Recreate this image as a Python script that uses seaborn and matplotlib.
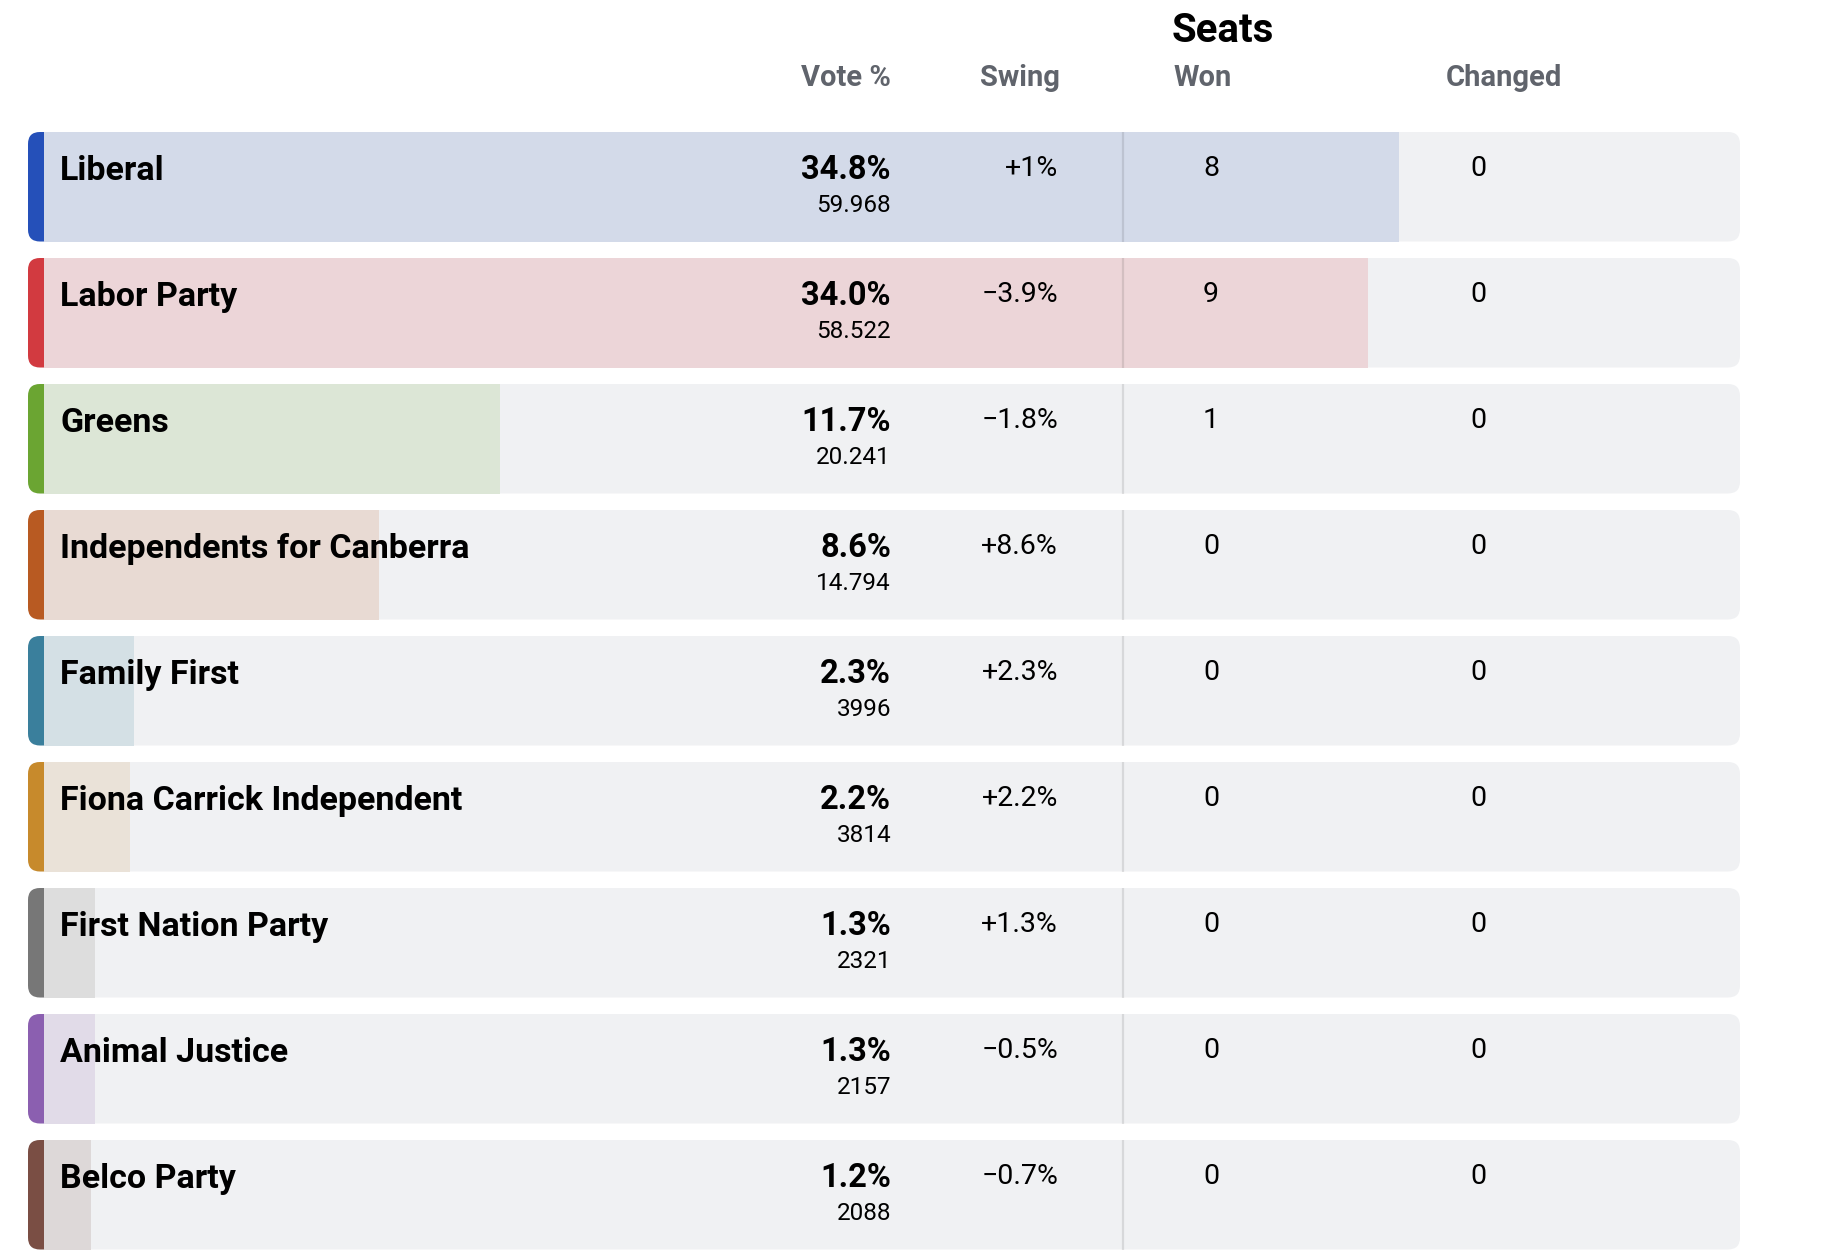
import matplotlib
matplotlib.use("Agg")
import matplotlib.pyplot as plt
from matplotlib.patches import FancyBboxPatch, Rectangle
import pandas as pd
import seaborn as sns

# ---------------- data ----------------
parties = ["Liberal", "Labor Party", "Greens", "Independents for Canberra",
           "Family First", "Fiona Carrick Independent", "First Nation Party",
           "Animal Justice", "Belco Party"]
vote_pct = [34.8, 34.0, 11.7, 8.6, 2.3, 2.2, 1.3, 1.3, 1.2]
vote_labels = ["34.8%", "34.0%", "11.7%", "8.6%", "2.3%", "2.2%", "1.3%", "1.3%", "1.2%"]
vote_counts = ["59.968", "58.522", "20.241", "14.794", "3996", "3814", "2321", "2157", "2088"]
swing = ["+1%", "\u22123.9%", "\u22121.8%", "+8.6%", "+2.3%", "+2.2%", "+1.3%", "\u22120.5%", "\u22120.7%"]
seats_won = [8, 9, 1, 0, 0, 0, 0, 0, 0]
seats_changed = [0, 0, 0, 0, 0, 0, 0, 0, 0]
strip_colors = ["#2550b9", "#d23a40", "#6ba532", "#b85a22", "#3a7f9c",
                "#c78a2c", "#777777", "#8b5fb0", "#7a4e44"]
bar_colors = ["#d3dae9", "#ecd5d8", "#dce6d6", "#e8dad3", "#d4e0e5",
              "#eae2d8", "#dddddd", "#e1dbe8", "#ddd8d8"]

# ---------------- layout (pixels) ----------------
W, H = 1828, 1254
ROW_X0, ROW_X1 = 28, 1740
STRIP_X1 = 44
ROW_TOP0, ROW_PITCH, ROW_H = 132, 126, 109.5
PX_PER_PCT = 38.94
SEP_X = 1123
ROW_BG = "#f0f1f3"

sns.set_theme(style="white")
plt.rcParams["font.family"] = ["Roboto", "DejaVu Sans"]

fig = plt.figure(figsize=(W / 100, H / 100), dpi=100)
fig.patch.set_facecolor("white")

# background axes (pixel coordinates)
ax_bg = fig.add_axes([0, 0, 1, 1])
ax_bg.set_xlim(0, W)
ax_bg.set_ylim(H, 0)
ax_bg.axis("off")

for i, p in enumerate(parties):
    top = ROW_TOP0 + i * ROW_PITCH
    row = FancyBboxPatch((ROW_X0, top), ROW_X1 - ROW_X0, ROW_H,
                         boxstyle="round,pad=0,rounding_size=12",
                         facecolor=ROW_BG, edgecolor="none", zorder=1)
    ax_bg.add_patch(row)
    strip = Rectangle((ROW_X0, top), STRIP_X1 - ROW_X0, ROW_H,
                      facecolor=strip_colors[i], edgecolor="none", zorder=2)
    ax_bg.add_patch(strip)
    strip.set_clip_path(row)

# bar axes: x in vote %, y in category index
ax_bar = fig.add_axes([0, 0, 1, 1], zorder=1)
ax_bar.patch.set_alpha(0)
df = pd.DataFrame({"party": parties, "vote": vote_pct})
sns.barplot(data=df, x="vote", y="party", hue="party",
            palette=dict(zip(parties, bar_colors)), orient="h",
            width=ROW_H / ROW_PITCH, saturation=1, legend=False,
            linewidth=0, ax=ax_bar)
x_lo = (0 - STRIP_X1) / PX_PER_PCT
x_hi = (W - STRIP_X1) / PX_PER_PCT
c0 = ROW_TOP0 + ROW_H / 2
ax_bar.set_xlim(x_lo, x_hi)
ax_bar.set_ylim((H - c0) / ROW_PITCH, (0 - c0) / ROW_PITCH)
ax_bar.axis("off")

# text / overlay axes (pixel coordinates)
ax_t = fig.add_axes([0, 0, 1, 1], zorder=2)
ax_t.patch.set_alpha(0)
ax_t.set_xlim(0, W)
ax_t.set_ylim(H, 0)
ax_t.axis("off")

GRAY = "#60646c"
TXT = "#000000"
HDR = 21
ax_t.text(1172, 42, "Seats", fontsize=29, fontweight="bold", color=TXT,
          ha="left", va="baseline")
ax_t.text(891, 86, "Vote %", fontsize=HDR, fontweight="semibold", color=GRAY,
          ha="right", va="baseline")
ax_t.text(1060, 86, "Swing", fontsize=HDR, fontweight="semibold", color=GRAY,
          ha="right", va="baseline")
ax_t.text(1173, 86, "Won", fontsize=HDR, fontweight="semibold", color=GRAY,
          ha="left", va="baseline")
ax_t.text(1446, 86, "Changed", fontsize=HDR, fontweight="semibold", color=GRAY,
          ha="left", va="baseline")

for i, p in enumerate(parties):
    top = ROW_TOP0 + i * ROW_PITCH
    ax_t.plot([SEP_X, SEP_X], [top, top + ROW_H], color="black", alpha=0.1,
              lw=1.6, solid_capstyle="butt")
    ax_t.text(60, top + 48, p, fontsize=24.5, fontweight="bold", color=TXT,
              ha="left", va="baseline")
    ax_t.text(891, top + 47, vote_labels[i], fontsize=23.5, fontweight="bold",
              color=TXT, ha="right", va="baseline")
    ax_t.text(891, top + 80, vote_counts[i], fontsize=17.5, color=TXT,
              ha="right", va="baseline")
    ax_t.text(1058, top + 44, swing[i], fontsize=20.5, color=TXT,
              ha="right", va="baseline")
    ax_t.text(1211, top + 44, str(seats_won[i]), fontsize=20.5, color=TXT,
              ha="center", va="baseline")
    ax_t.text(1478, top + 44, str(seats_changed[i]), fontsize=20.5, color=TXT,
              ha="center", va="baseline")

fig.savefig("out.png", dpi=100, facecolor="white")
